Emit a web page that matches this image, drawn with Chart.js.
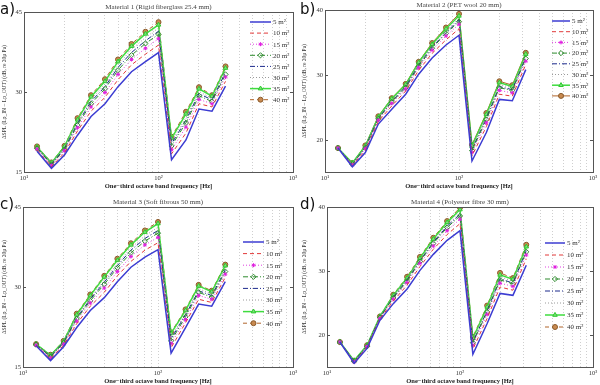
<!DOCTYPE html>
<html>
<head>
<meta charset="utf-8">
<script src="https://cdn.jsdelivr.net/npm/chart.js@4.4.0/dist/chart.umd.min.js"></script>
<style>
  body { margin: 0; background: #fff; width: 600px; height: 385px; position: relative; overflow: hidden; }
  canvas { position: absolute; }
  .tag { position: absolute; font-family: "DejaVu Sans"; font-size: 15px; color: #111; line-height: 1; }
</style>
</head>
<body>
<canvas id="pa" width="300" height="190" style="left:0;top:0"></canvas>
<canvas id="pb" width="300" height="190" style="left:300px;top:0"></canvas>
<canvas id="pc" width="300" height="195" style="left:0;top:190px"></canvas>
<canvas id="pd" width="300" height="195" style="left:300px;top:190px"></canvas>
<div class="tag" style="left:0;top:2px">a)</div>
<div class="tag" style="left:300px;top:2px">b)</div>
<div class="tag" style="left:0;top:197px">c)</div>
<div class="tag" style="left:300px;top:197px">d)</div>
<script>
// one-third octave band centre frequencies (Hz)
const freqs = [12.5, 16, 20, 25, 31.5, 40, 50, 63, 80, 100, 125, 160, 200, 250, 315];
const areas = ["5 m²", "10 m²", "15 m²", "20 m²", "25 m²", "30 m²", "35 m²", "40 m²"];

// Material 1
const a5  = [18.9,15.7,18.2,21.9,25.4,27.8,31.0,33.8,35.7,37.4,17.3,21.0,26.8,26.4,31.1];
const a10 = [19.1,16.0,18.6,22.7,26.4,29.0,32.3,35.1,37.1,38.8,18.4,22.3,27.8,27.2,32.0];
const a15 = [19.3,16.2,19.0,23.3,27.2,29.9,33.3,36.1,38.2,40.0,19.2,23.4,28.6,27.8,32.8];
const a20 = [19.4,16.4,19.2,23.8,27.8,30.6,34.1,36.9,39.1,40.8,19.9,24.2,29.3,28.2,33.3];
const a25 = [19.5,16.5,19.4,24.1,28.2,31.0,34.6,37.4,39.6,41.4,20.3,24.7,29.7,28.5,33.7];
const a30 = [19.6,16.6,19.6,24.5,28.6,31.5,35.1,38.0,40.2,42.0,20.7,25.2,30.1,28.8,34.1];
const a35 = [19.7,16.7,19.8,24.8,29.1,32.0,35.7,38.6,40.9,42.6,21.3,25.9,30.6,29.2,34.5];
const a40 = [19.8,16.8,19.9,25.1,29.4,32.4,36.1,39.0,41.3,43.1,21.6,26.3,30.9,29.4,34.8];

// Material 2
const b5  = [18.7,15.8,18.0,22.4,24.7,27.0,30.1,32.6,34.6,36.1,16.7,21.1,26.2,26.0,30.8];
const b10 = [18.7,16.0,18.3,22.8,25.2,27.5,30.7,33.3,35.4,37.1,17.5,22.0,27.0,26.7,31.6];
const b15 = [18.7,16.1,18.6,23.0,25.6,27.8,31.1,33.8,36.0,37.8,18.0,22.6,27.6,27.2,32.1];
const b20 = [18.7,16.2,18.7,23.2,25.8,28.0,31.3,34.1,36.4,38.2,18.3,23.1,28.0,27.6,32.5];
const b25 = [18.7,16.2,18.8,23.3,25.9,28.2,31.5,34.3,36.5,38.5,18.5,23.3,28.2,27.7,32.7];
const b30 = [18.7,16.3,18.9,23.4,26.1,28.3,31.7,34.5,36.8,38.8,18.8,23.6,28.5,28.0,32.9];
const b35 = [18.7,16.4,19.0,23.5,26.3,28.5,31.9,34.7,37.1,39.1,19.0,23.9,28.8,28.2,33.2];
const b40 = [18.7,16.4,19.1,23.6,26.4,28.6,32.0,34.9,37.3,39.4,19.2,24.1,29.0,28.4,33.4];

// Material 3
const c5  = [19.0,16.2,18.8,22.4,25.6,28.0,31.0,33.7,35.6,37.0,17.6,22.4,26.8,26.4,31.0];
const c10 = [19.1,16.5,19.1,23.1,26.4,29.0,32.1,34.8,36.9,38.3,18.6,23.3,27.7,27.1,31.8];
const c15 = [19.1,16.7,19.3,23.6,27.0,29.8,32.9,35.7,37.9,39.3,19.4,23.9,28.4,27.7,32.4];
const c20 = [19.2,16.9,19.5,24.0,27.4,30.5,33.6,36.4,38.6,40.1,19.9,24.4,29.0,28.1,32.9];
const c25 = [19.2,17.0,19.6,24.2,27.7,30.9,34.0,36.9,39.1,40.6,20.3,24.8,29.3,28.4,33.2];
const c30 = [19.2,17.1,19.7,24.5,28.0,31.3,34.4,37.3,39.6,41.2,20.7,25.1,29.7,28.7,33.6];
const c35 = [19.3,17.2,19.8,24.8,28.4,31.9,35.0,37.9,40.3,41.9,21.3,25.6,30.2,29.1,34.0];
const c40 = [19.3,17.3,19.9,25.0,28.6,32.1,35.3,38.2,40.6,42.2,21.5,25.8,30.4,29.3,34.2];

// Material 4
const d5  = [18.9,15.6,17.9,22.3,24.9,27.2,30.1,32.6,34.8,36.3,17.0,21.8,26.5,26.2,30.9];
const d10 = [18.9,15.7,18.1,22.5,25.3,27.8,30.7,33.4,35.7,37.4,17.8,22.6,27.5,27.0,31.9];
const d15 = [18.9,15.8,18.2,22.6,25.6,28.2,31.2,33.9,36.3,38.1,18.4,23.2,28.1,27.6,32.5];
const d20 = [18.9,15.9,18.2,22.7,25.8,28.4,31.5,34.3,36.8,38.6,18.8,23.6,28.6,28.0,33.0];
const d25 = [18.9,15.9,18.3,22.7,25.9,28.6,31.6,34.5,37.0,38.9,18.9,23.8,28.8,28.1,33.2];
const d30 = [18.9,15.9,18.3,22.8,26.0,28.8,31.8,34.7,37.3,39.3,19.2,24.1,29.1,28.4,33.5];
const d35 = [18.9,16.0,18.4,22.9,26.2,28.9,32.0,35.0,37.6,39.6,19.5,24.4,29.4,28.7,33.8];
const d40 = [18.9,16.0,18.4,22.9,26.3,29.1,32.2,35.2,37.8,39.9,19.7,24.6,29.7,28.9,34.1];

// axis ticks
const xGrid = [10,20,30,40,50,60,70,80,90,100,200,300,400,500,600,700,800,900,1000];
const xDecades = [10, 100, 1000];
const xDecadeLabels = ["10¹", "10²", "10³"];
const yTicksWide = [15, 30, 45];
const yTicksNarrow = [20, 30, 40];

const serif = "Liberation Serif";

// line styles for the 8 areas (MATLAB-like)
function styles(solid40) {
  return [
    { borderColor: "#3c3cd2", borderWidth: 1.5, borderDash: [], pointStyle: false },
    { borderColor: "#e23a3a", borderWidth: 1, borderDash: [4, 3], pointStyle: false },
    { borderColor: "#e040e0", borderWidth: 1, borderDash: [1, 2], pointStyle: "star", pointRadius: 2, pointBorderColor: "#e020e0", pointBackgroundColor: "#e020e0" },
    { borderColor: "#2e8b2e", borderWidth: 1, borderDash: [5, 2, 1, 2], pointStyle: "rectRot", pointRadius: 2.6, pointBorderColor: "#2e8b2e", pointBackgroundColor: "rgba(255,255,255,0)" },
    { borderColor: "#1c2a8c", borderWidth: 1, borderDash: [5, 2, 1, 2], pointStyle: false },
    { borderColor: "#9a9a9a", borderWidth: 1, borderDash: [1, 2], pointStyle: false },
    { borderColor: "#3fdc3f", borderWidth: 1.5, borderDash: [], pointStyle: "triangle", pointRadius: 2.6, pointBorderColor: "#2fc82f", pointBackgroundColor: "#7be27b" },
    { borderColor: "#b0652a", borderWidth: 1, borderDash: solid40 ? [] : [4, 3], pointStyle: "circle", pointRadius: 2.5, pointBorderColor: "#8a5a2a", pointBackgroundColor: "#c98a50" }
  ];
}

const framePlugin = {
  id: "frame",
  afterDraw(chart, args, opts) {
    const { ctx, chartArea: a, scales } = chart;
    const y = scales.y;
    ctx.save();
    ctx.strokeStyle = "#555";
    ctx.lineWidth = 1;
    ctx.setLineDash([]);
    ctx.strokeRect(Math.round(a.left) + 0.5, Math.round(a.top) + 0.5, Math.round(a.width), Math.round(a.height));
    // inward ticks on both sides, labels on the left
    ctx.font = "6.5px '" + serif + "'";
    ctx.fillStyle = "#333";
    ctx.textAlign = "right";
    ctx.textBaseline = "middle";
    ctx.beginPath();
    opts.yTicks.forEach(v => {
      const py = Math.round(y.getPixelForValue(v)) + 0.5;
      ctx.moveTo(a.left, py); ctx.lineTo(a.left + 3, py);
      ctx.moveTo(a.right, py); ctx.lineTo(a.right - 3, py);
      ctx.fillText(String(v), a.left - 2, py);
    });
    ctx.stroke();

    // panel title
    ctx.font = "7px '" + serif + "'";
    ctx.fillStyle = "#444";
    ctx.textAlign = "center";
    ctx.textBaseline = "bottom";
    ctx.fillText(opts.title, (a.left + a.right) / 2, a.top - 1);

    // legend
    const L = opts.legend;
    ctx.textAlign = "left";
    ctx.textBaseline = "middle";
    chart.data.datasets.forEach((ds, i) => {
      const ly = L.y0 + i * L.dy;
      ctx.strokeStyle = ds.borderColor;
      ctx.lineWidth = ds.borderWidth;
      ctx.setLineDash(ds.borderDash);
      ctx.beginPath();
      ctx.moveTo(L.x0, ly); ctx.lineTo(L.x1, ly);
      ctx.stroke();
      ctx.setLineDash([]);
      if (ds.pointStyle) {
        ctx.strokeStyle = ds.pointBorderColor;
        ctx.fillStyle = ds.pointBackgroundColor;
        ctx.lineWidth = 1;
        Chart.helpers.drawPoint(ctx, { pointStyle: ds.pointStyle, rotation: 0, radius: ds.pointRadius, borderWidth: 1 }, (L.x0 + L.x1) / 2, ly);
      }
      ctx.fillStyle = "#333";
      ctx.fillText(areas[i], L.tx, ly + 0.5);
    });
    ctx.restore();
  }
};

function makeChart(id, series, opt) {
  const st = styles(opt.solid40);
  const datasets = series.map((vals, i) => Object.assign({
    label: areas[i],
    data: vals.map((v, k) => ({ x: freqs[k], y: v })),
    fill: false,
    tension: 0,
    pointBorderWidth: 1
  }, st[i]));

  new Chart(document.getElementById(id), {
    type: "line",
    data: { datasets },
    plugins: [framePlugin],
    options: {
      responsive: false,
      animation: false,
      events: [],
      layout: { padding: { top: opt.top, right: 7, left: 0, bottom: 0 } },
      plugins: {
        legend: { display: false },
        tooltip: { enabled: false },
        frame: { title: opt.title, legend: opt.legend, yTicks: opt.yTicks }
      },
      scales: {
        x: {
          type: "logarithmic",
          min: 10,
          max: 1000,
          afterBuildTicks: s => { s.ticks = xGrid.map(v => ({ value: v })); },
          afterFit: s => { s.height = 18; },
          ticks: {
            autoSkip: false,
            maxRotation: 0,
            padding: 2,
            color: "#333",
            font: { family: serif, size: 6.5 },
            callback: v => {
              const k = xDecades.indexOf(v);
              return k >= 0 ? xDecadeLabels[k] : "";
            }
          },
          grid: { color: "#cfcfcf", lineWidth: 1, drawTicks: false },
          border: { display: false, dash: [1, 2] },
          title: {
            display: true,
            text: "One−third octave band frequency [Hz]",
            color: "#222",
            font: { family: serif, size: 6.5, weight: "bold" },
            padding: { top: 0, bottom: 0 }
          }
        },
        y: {
          min: opt.ymin,
          max: opt.ymax,
          afterFit: s => { s.width = opt.left; },
          ticks: { display: false },
          grid: { display: false },
          border: { display: false },
          title: {
            display: true,
            text: "ΔSPL (Lp_IN − Lp_OUT) (dB, re 20μ Pa)",
            color: "#333",
            font: { family: serif, size: 5.5 },
            padding: { top: 1, bottom: 0 }
          }
        }
      }
    }
  });
}

makeChart("pa", [a5, a10, a15, a20, a25, a30, a35, a40], {
  title: "Material 1 (Rigid fiberglass 25.4 mm)",
  top: 12, left: 24, ymin: 15, ymax: 45, yTicks: yTicksWide, solid40: false,
  legend: { x0: 250, x1: 271, tx: 273, y0: 22, dy: 11.1 }
});
makeChart("pb", [b5, b10, b15, b20, b25, b30, b35, b40], {
  title: "Material 2 (PET wool 20 mm)",
  top: 10, left: 25, ymin: 15, ymax: 40, yTicks: yTicksNarrow, solid40: true,
  legend: { x0: 252, x1: 270, tx: 272, y0: 21, dy: 10.7 }
});
makeChart("pc", [c5, c10, c15, c20, c25, c30, c35, c40], {
  title: "Material 3 (Soft fibrous 50 mm)",
  top: 17, left: 23, ymin: 15, ymax: 45, yTicks: yTicksWide, solid40: false,
  legend: { x0: 243, x1: 264, tx: 266, y0: 52, dy: 11.6 }
});
makeChart("pd", [d5, d10, d15, d20, d25, d30, d35, d40], {
  title: "Material 4 (Polyester fibre 30 mm)",
  top: 17, left: 27, ymin: 15, ymax: 40, yTicks: yTicksNarrow, solid40: false,
  legend: { x0: 245, x1: 265, tx: 267, y0: 53, dy: 12 }
});
</script>
</body>
</html>
